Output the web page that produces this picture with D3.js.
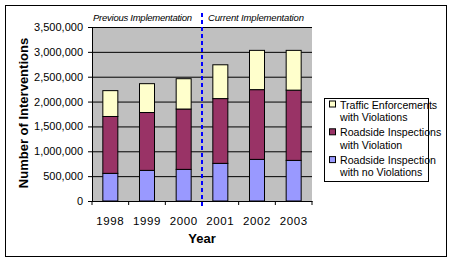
<!DOCTYPE html>
<html>
<head>
<meta charset="utf-8">
<script src="https://cdn.jsdelivr.net/npm/d3@7"></script>
<style>
  body { margin: 0; background: #fff; }
  text { font-family: Arial, "Liberation Sans", sans-serif; }
</style>
</head>
<body>
<div class="chart"></div>
<script>
// data
var years = ["1998", "1999", "2000", "2001", "2002", "2003"];
var noViolations = [556000, 616000, 636000, 757000, 837000, 817000];
var roadsideViolation = [1144000, 1164000, 1214000, 1303000, 1403000, 1413000];
var trafficViolations = [520000, 580000, 610000, 680000, 790000, 800000];
var yTicks = [0, 500000, 1000000, 1500000, 2000000, 2500000, 3000000, 3500000];

var seriesNames = ["Roadside Inspection with no Violations", "Roadside Inspections with Violation", "Traffic Enforcements with Violations"];
var seriesColors = ["#9999FF", "#993366", "#FFFFCC"];

var width = 453, height = 265;
var svg = d3.select(".chart").append("svg")
            .attr("width", width)
            .attr("height", height);

// outer frame
svg.append("rect")
   .attr("x", 5.5).attr("y", 5.5)
   .attr("width", 441).attr("height", 251)
   .attr("fill", "#fff").attr("stroke", "#000").attr("stroke-width", 1);

var plot = { left: 92, right: 312, top: 27, bottom: 201 };

var scaleX = d3.scaleBand()
               .domain(years)
               .range([plot.left, plot.right]);

var scaleY = d3.scaleLinear()
               .domain([0, 3500000])
               .range([plot.bottom, plot.top]);

var table = years.map(function(y, i) {
  return { year: y, a: noViolations[i], b: roadsideViolation[i], c: trafficViolations[i] };
});
var stack = d3.stack().keys(["a", "b", "c"])(table);

// plot background
svg.append("rect")
   .attr("x", plot.left).attr("y", plot.top)
   .attr("width", plot.right - plot.left).attr("height", plot.bottom - plot.top)
   .attr("fill", "#C0C0C0");

// gridlines + left axis
var axisLeft = d3.axisLeft(scaleY)
                 .tickValues(yTicks)
                 .tickSizeInner(-(plot.right - plot.left))
                 .tickSizeOuter(0)
                 .tickPadding(9)
                 .tickFormat(d3.format(","));
var gy = svg.append("g")
   .attr("transform", "translate(" + plot.left + ",0)")
   .call(axisLeft);
gy.select(".domain").attr("stroke", "#000");
gy.selectAll(".tick line").attr("stroke", "#000").attr("x1", -4);
gy.selectAll(".tick text").attr("font-size", 11).attr("font-family", "Arial, 'Liberation Sans', sans-serif").attr("fill", "#000");

// bars
svg.append("g").selectAll("g")
   .data(stack)
   .enter().append("g")
   .attr("fill", function(d, i) { return seriesColors[i]; })
   .selectAll("rect")
   .data(function(d) { return d; })
   .enter().append("rect")
   .attr("x", function(d) { return scaleX(d.data.year) + scaleX.bandwidth() / 2 - 7.5; })
   .attr("width", 15)
   .attr("y", function(d) { return scaleY(d[1]); })
   .attr("height", function(d) { return scaleY(d[0]) - scaleY(d[1]); })
   .attr("stroke", "#000")
   .attr("stroke-width", 1);

// bottom axis
var axisBottom = d3.axisBottom(scaleX).tickSize(0).tickPadding(16);
var gx = svg.append("g")
   .attr("transform", "translate(0," + plot.bottom + ")")
   .call(axisBottom);
gx.select(".domain").attr("stroke", "#000");
gx.selectAll(".tick text").attr("font-size", 11.5).attr("letter-spacing", 0.6).attr("font-family", "Arial, 'Liberation Sans', sans-serif").attr("fill", "#000");
// category separator ticks
gx.selectAll(".sep")
  .data(years.concat(["end"]))
  .enter().append("line")
  .attr("x1", function(d, i) { return plot.left + i * scaleX.step(); })
  .attr("x2", function(d, i) { return plot.left + i * scaleX.step(); })
  .attr("y1", 0).attr("y2", 4)
  .attr("stroke", "#000");

// implementation divider
var divX = (scaleX("2000") + scaleX("2001")) / 2 + scaleX.bandwidth() / 2;
svg.append("line")
   .attr("x1", divX).attr("x2", divX)
   .attr("y1", 13).attr("y2", 207)
   .attr("stroke", "#0000FF")
   .attr("stroke-width", 2)
   .attr("stroke-dasharray", "4,3");

svg.append("text")
   .attr("x", 93).attr("y", 21)
   .attr("font-size", 9.5).attr("font-style", "italic")
   .attr("textLength", 99)
   .text("Previous Implementation");
svg.append("text")
   .attr("x", 208).attr("y", 21)
   .attr("font-size", 9.5).attr("font-style", "italic")
   .attr("textLength", 96)
   .text("Current Implementation");

// axis titles
svg.append("text")
   .attr("x", (plot.left + plot.right) / 2).attr("y", 243)
   .attr("text-anchor", "middle")
   .attr("font-size", 13).attr("font-weight", "bold")
   .text("Year");
svg.append("text")
   .attr("transform", "translate(28,113) rotate(-90)")
   .attr("text-anchor", "middle")
   .attr("font-size", 13).attr("font-weight", "bold")
   .text("Number of Interventions");

// legend
var legend = svg.append("g");
legend.append("rect")
   .attr("x", 324.5).attr("y", 98.5)
   .attr("width", 104).attr("height", 83)
   .attr("fill", "#fff").attr("stroke", "#000");

var legendLines = [
  ["Traffic Enforcements", "with Violations"],
  ["Roadside Inspections", "with Violation"],
  ["Roadside Inspection", "with no Violations"]
];
var legendColors = [seriesColors[2], seriesColors[1], seriesColors[0]];

legendLines.forEach(function(lines, i) {
  var y0 = 108.5 + i * 27.8;
  legend.append("rect")
     .attr("x", 329.5).attr("y", y0 - 7.5)
     .attr("width", 6).attr("height", 6)
     .attr("fill", legendColors[i]).attr("stroke", "#000");
  lines.forEach(function(t, j) {
    legend.append("text")
       .attr("x", 340).attr("y", y0 + j * 12.3)
       .attr("font-size", 10.6)
       .text(t);
  });
});
</script>
</body>
</html>
